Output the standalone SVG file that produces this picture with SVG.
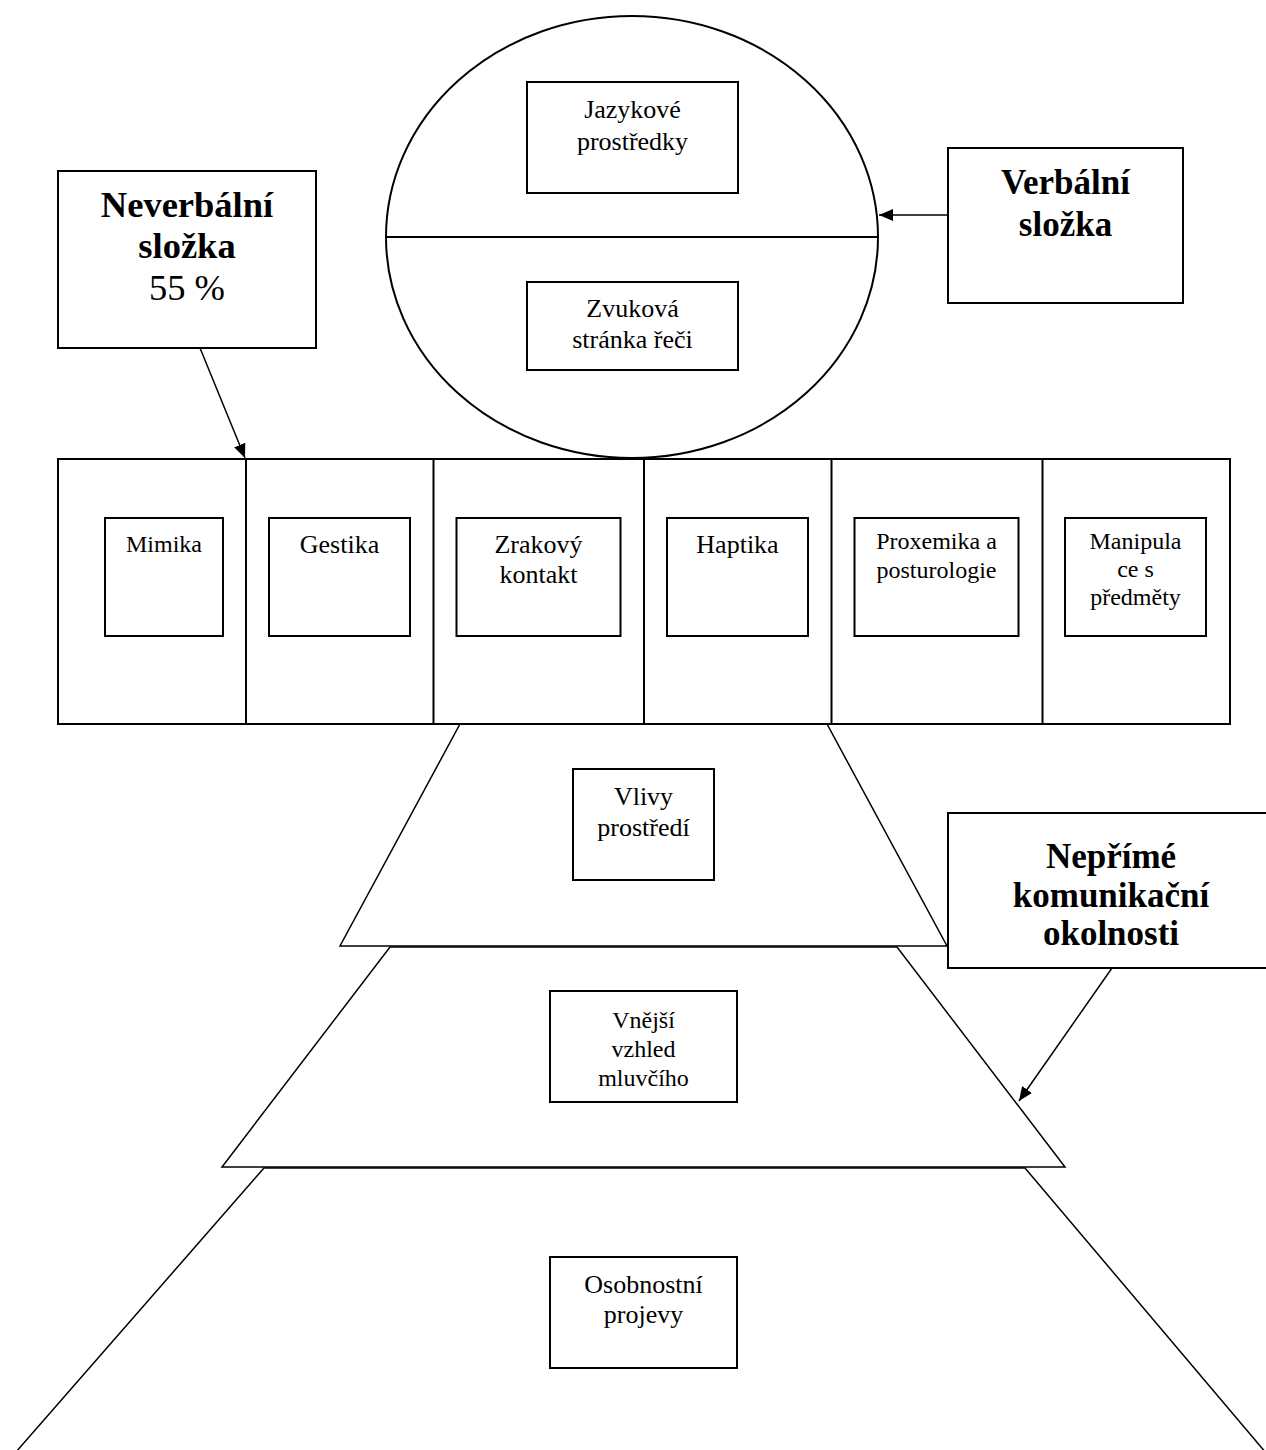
<svg xmlns="http://www.w3.org/2000/svg" width="1266" height="1450" viewBox="0 0 1266 1450">
  <defs>
    <marker id="arrow" viewBox="0 0 14 12" refX="14" refY="6" markerWidth="14" markerHeight="12" markerUnits="userSpaceOnUse" orient="auto">
      <path d="M0,0 L14,6 L0,12 Z" fill="#000"/>
    </marker>
    <style>
      .box{fill:#fff;stroke:#000;stroke-width:2}
      .edge{fill:#fff;stroke:#000;stroke-width:1.5}
      .div{stroke:#000;stroke-width:2;fill:none}
      .t{font-family:"Liberation Serif","Times New Roman",serif;font-size:26px;text-anchor:middle;fill:#000}
      .s{font-size:24px}
      .b{font-family:"Liberation Serif","Times New Roman",serif;font-size:35px;font-weight:bold;text-anchor:middle;fill:#000}
      .big{font-size:36.5px}
      .r{font-weight:normal}
      .conn{stroke:#000;stroke-width:1.5;fill:none;marker-end:url(#arrow)}
    </style>
  </defs>

  <rect x="0" y="0" width="1266" height="1450" fill="#fff"/>

  <!-- layered pyramid of indirect circumstances, widest layer first -->
  <g id="osobnostni-projevy">
    <polygon class="edge" points="264,1168 1025,1168 1272,1460 9,1460"/>
    <rect class="box" x="550" y="1257" width="187" height="111"/>
    <text class="t" x="643.5" y="1293">Osobnostní</text>
    <text class="t" x="643.5" y="1323">projevy</text>
  </g>

  <g id="vnejsi-vzhled">
    <polygon class="edge" points="390,947 897,947 1065,1167 222,1167"/>
    <rect class="box" x="550" y="991" width="187" height="111"/>
    <text class="t s" x="643.5" y="1028">Vnější</text>
    <text class="t s" x="643.5" y="1057">vzhled</text>
    <text class="t s" x="643.5" y="1086">mluvčího</text>
  </g>

  <g id="vlivy-prostredi">
    <polygon class="edge" points="460,724 827,724 947,946 340,946"/>
    <rect class="box" x="573" y="769" width="141" height="111"/>
    <text class="t" x="643.5" y="805">Vlivy</text>
    <text class="t" x="643.5" y="836">prostředí</text>
  </g>

  <!-- verbal component: ellipse split in two halves -->
  <g id="verbalni-elipsa">
    <ellipse class="box" cx="632" cy="237" rx="246" ry="221"/>
    <line class="div" x1="386" y1="237" x2="878" y2="237"/>
    <rect class="box" x="527" y="82" width="211" height="111"/>
    <text class="t" x="632.5" y="118">Jazykové</text>
    <text class="t" x="632.5" y="150">prostředky</text>
    <rect class="box" x="527" y="282" width="211" height="88"/>
    <text class="t" x="632.5" y="317">Zvuková</text>
    <text class="t" x="632.5" y="348">stránka řeči</text>
  </g>

  <!-- non-verbal component: row of six cells -->
  <g id="neverbalni-rada">
    <rect class="box" x="58" y="459" width="1172" height="265"/>
    <line class="div" x1="246" y1="459" x2="246" y2="724"/>
    <line class="div" x1="433.5" y1="459" x2="433.5" y2="724"/>
    <line class="div" x1="644" y1="459" x2="644" y2="724"/>
    <line class="div" x1="831.5" y1="459" x2="831.5" y2="724"/>
    <line class="div" x1="1042.5" y1="459" x2="1042.5" y2="724"/>
  </g>

  <g id="mimika">
    <rect class="box" x="105" y="518" width="118" height="118"/>
    <text class="t s" x="164" y="552">Mimika</text>
  </g>
  <g id="gestika">
    <rect class="box" x="269" y="518" width="141" height="118"/>
    <text class="t" x="339.5" y="553">Gestika</text>
  </g>
  <g id="zrakovy-kontakt">
    <rect class="box" x="456.5" y="518" width="164" height="118"/>
    <text class="t" x="538.5" y="553">Zrakový</text>
    <text class="t" x="538.5" y="583">kontakt</text>
  </g>
  <g id="haptika">
    <rect class="box" x="667" y="518" width="141" height="118"/>
    <text class="t" x="737.5" y="553">Haptika</text>
  </g>
  <g id="proxemika">
    <rect class="box" x="854.5" y="518" width="164" height="118"/>
    <text class="t s" x="936.5" y="549">Proxemika a</text>
    <text class="t s" x="936.5" y="578">posturologie</text>
  </g>
  <g id="manipulace">
    <rect class="box" x="1065" y="518" width="141" height="118"/>
    <text class="t s" x="1135.5" y="549">Manipula</text>
    <text class="t s" x="1135.5" y="577">ce s</text>
    <text class="t s" x="1135.5" y="605">předměty</text>
  </g>

  <!-- labels -->
  <g id="neverbalni-slozka">
    <rect class="box" x="58" y="171" width="258" height="177"/>
    <text class="b big" x="187" y="217">Neverbální</text>
    <text class="b big" x="187" y="258">složka</text>
    <text class="b big r" x="187" y="300">55 %</text>
  </g>

  <g id="verbalni-slozka">
    <rect class="box" x="948" y="148" width="235" height="155"/>
    <text class="b" x="1065.5" y="194">Verbální</text>
    <text class="b" x="1065.5" y="236">složka</text>
  </g>

  <g id="neprime-okolnosti">
    <rect class="box" x="948" y="813" width="330" height="155"/>
    <text class="b" x="1111" y="868">Nepřímé</text>
    <text class="b" x="1111" y="907">komunikační</text>
    <text class="b" x="1111" y="945">okolnosti</text>
  </g>

  <g id="connectors">
    <line class="conn" x1="200" y1="348" x2="245" y2="458"/>
    <line class="conn" x1="948" y1="215" x2="879" y2="215"/>
    <line class="conn" x1="1112" y1="968" x2="1019" y2="1101"/>
  </g>
</svg>
